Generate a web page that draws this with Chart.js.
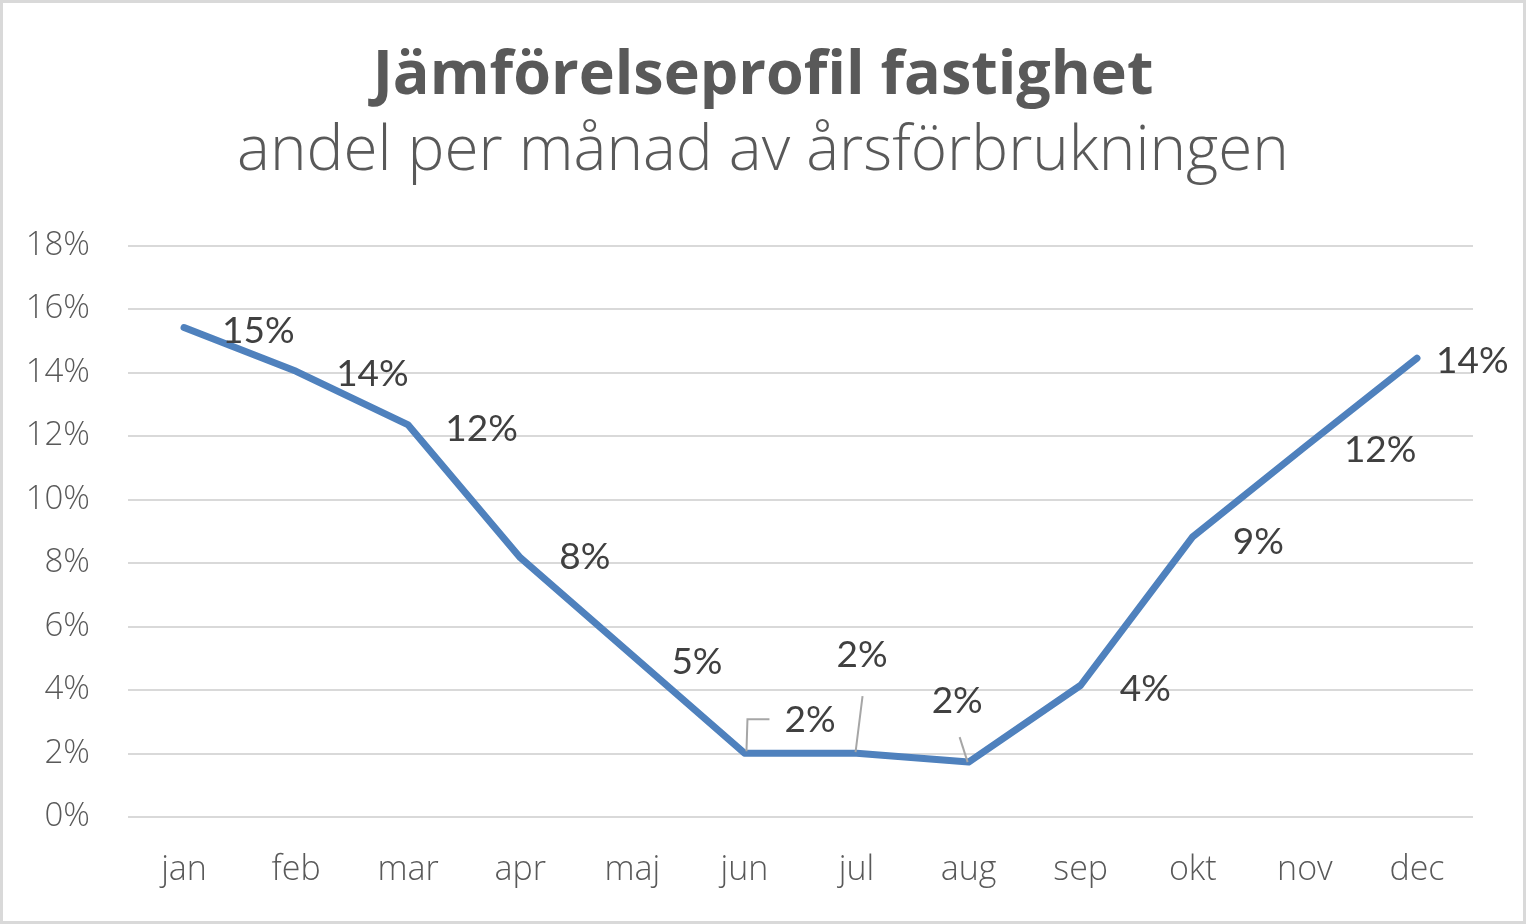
<!DOCTYPE html>
<html>
<head>
<meta charset="utf-8">
<script src="https://cdn.jsdelivr.net/npm/chart.js@4"></script>
<style>
  html, body { margin: 0; padding: 0; background: #fff; }
  #wrap { width: 1526px; height: 924px; position: relative; }
</style>
</head>
<body>
<div id="wrap"><canvas id="myChart"></canvas></div>
<script>
var months = ['jan','feb','mar','apr','maj','jun','jul','aug','sep','okt','nov','dec'];
var shares = [15.42, 14.04, 12.35, 8.17, 5.09, 2.01, 2.01, 1.73, 4.15, 8.83, 11.66, 14.45];
var yTicks = [0, 2, 4, 6, 8, 10, 12, 14, 16, 18];

// label placement relative to each point (px), like the moved labels in the original
var labelOffsets = [[38,4],[40,3],[37,4],[39,-1],[39,7],[40,-33],[-20,-98],[-37,-61],[39,4],[40,5],[39,3],[19,3]];
// leader lines for the labels that were dragged away from their point
var leaders = {5: [[2,-2],[3,-34],[25,-34]], 6: [[-1,-1],[6,-57]], 7: [[-1,0],[-9,-25]]};

var pointLabels = {
  id: 'pointLabels',
  afterDatasetsDraw: function(chart){
    var c = chart.ctx;
    var meta = chart.getDatasetMeta(0);
    c.save();
    // leader lines
    c.strokeStyle = '#a6a6a6';
    c.lineWidth = 2;
    Object.keys(leaders).forEach(function(k){
      var p = meta.data[k];
      var pts = leaders[k];
      c.beginPath();
      c.moveTo(p.x + pts[0][0], p.y + pts[0][1]);
      for (var i = 1; i < pts.length; i++) c.lineTo(p.x + pts[i][0], p.y + pts[i][1]);
      c.stroke();
    });
    c.fillStyle = '#404040';
    c.font = '37px Lato';
    c.textAlign = 'left';
    c.textBaseline = 'middle';
    meta.data.forEach(function(p, i){
      var txt = Math.round(shares[i]) + '%';
      c.fillText(txt, p.x + labelOffsets[i][0], p.y + labelOffsets[i][1]);
    });
    c.restore();
  }
};

var frame = {
  id: 'frame',
  beforeDraw: function(chart){
    var c = chart.ctx;
    c.save();
    c.fillStyle = '#fff';
    c.fillRect(0, 0, chart.width, chart.height);
    c.restore();
  },
  afterDraw: function(chart){
    var c = chart.ctx;
    c.save();
    c.strokeStyle = '#d9d9d9';
    c.lineWidth = 3;
    c.strokeRect(1.5, 1.5, chart.width - 3, chart.height - 3);
    c.restore();
  }
};

var ctx = document.getElementById('myChart');
var myChart = new Chart(ctx, {
  type: 'line',
  data: {
    labels: months,
    datasets: [{
      data: shares,
      yAxisID: 'y',
      borderColor: '#4f81bd',
      borderWidth: 7,
      borderCapStyle: 'round',
      borderJoinStyle: 'round',
      pointRadius: 0,
      tension: 0,
      fill: false
    }]
  },
  options: {
    responsive: true,
    maintainAspectRatio: false,
    animation: false,
    layout: { padding: 0 },
    plugins: {
      legend: { display: false },
      tooltip: { enabled: false },
      title: {
        display: true,
        text: 'Jämförelseprofil fastighet',
        color: '#595959',
        font: { family: 'Open Sans', size: 61, weight: 'bold' },
        padding: { top: 40, bottom: 0 }
      },
      subtitle: {
        display: true,
        text: 'andel per månad av årsförbrukningen',
        color: '#595959',
        font: { family: 'Open Sans', size: 62, weight: '300' },
        padding: { top: 2, bottom: 56 }
      }
    },
    scales: {
      x: {
        offset: true,
        grid: { display: false, drawTicks: false },
        border: { display: false },
        ticks: {
          color: '#595959',
          font: { family: 'Open Sans', size: 34, weight: '300' },
          padding: 33,
          maxRotation: 0
        },
        afterFit: function(scale){ scale.height = 107; }
      },
      y: {
        min: 0,
        max: 18,
        afterBuildTicks: function(scale){
          scale.ticks = yTicks.map(function(v){ return {value: v}; });
        },
        grid: { color: '#d9d9d9', lineWidth: 2, drawTicks: false },
        border: { display: false },
        ticks: {
          color: '#595959',
          font: { family: 'Open Sans', size: 33, weight: '300' },
          padding: 38,
          callback: function(v){ return v + '%'; }
        },
        afterFit: function(scale){ scale.width = 128; }
      },
      // empty right-hand spacer so the titles stay centred on the whole picture
      yRight: {
        position: 'right',
        min: 0,
        max: 18,
        grid: { display: false, drawTicks: false },
        border: { display: false },
        ticks: { display: false },
        afterFit: function(scale){ scale.width = 53; }
      }
    }
  },
  plugins: [frame, pointLabels]
});
</script>
</body>
</html>
